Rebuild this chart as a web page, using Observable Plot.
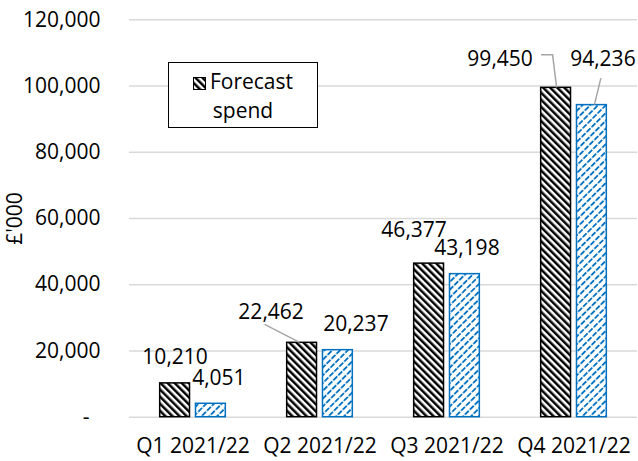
<!DOCTYPE html>
<html>
<head>
<meta charset="utf-8">
<script src="https://cdn.jsdelivr.net/npm/d3@7"></script>
<script src="https://cdn.jsdelivr.net/npm/@observablehq/plot@0.6"></script>
<style>
  body { margin: 0; background: #fff; }
  #wrap { position: relative; width: 638px; height: 461px; font-family: "Open Sans", sans-serif; color: #000; }
  #legend {
    position: absolute; left: 168px; top: 62px; width: 148px; height: 60px; padding-top: 4px;
    border: 1.5px solid #000; background: #fff; text-align: center;
    font-size: 21px; line-height: 29px; box-sizing: content-box;
  }
  #legend svg { vertical-align: -1px; margin-right: 4px; }
</style>
</head>
<body>
<svg width="0" height="0" style="position:absolute">
  <defs>
    <pattern id="hatchForecast" patternUnits="userSpaceOnUse" width="5" height="5" patternTransform="rotate(-45)">
      <rect width="5" height="5" fill="#fff"></rect>
      <rect width="2.5" height="5" fill="#000"></rect>
    </pattern>
    <pattern id="hatchActual" patternUnits="userSpaceOnUse" width="5.5" height="7" patternTransform="rotate(45)">
      <rect width="5.5" height="7" fill="#fff"></rect>
      <rect width="1.8" height="5.5" fill="#0070C0"></rect>
    </pattern>
  </defs>
</svg>
<div id="wrap">
  <div id="chart"></div>
  <div id="legend"><svg width="13" height="13"><rect x="0.5" y="0.5" width="12" height="12" fill="url(#hatchForecast)" stroke="#000" stroke-width="1"></rect></svg>Forecast<br>spend</div>
</div>
<script>
// ---- data ----
const quarters = ["Q1 2021/22", "Q2 2021/22", "Q3 2021/22", "Q4 2021/22"];
const seriesNames = ["Forecast spend", "Actual spend"];
const forecastSpend = [10210, 22462, 46377, 99450];
const actualSpend = [4051, 20237, 43198, 94236];
const yTicks = [0, 20000, 40000, 60000, 80000, 100000, 120000];

// manual label placement (as in the original, some labels were dragged): [dx, dy] per quarter, per series
const forecastLabelNudge = [[0, 0], [-31, -5], [-15, -7], [-56, -3]];
const actualLabelNudge = [[8, 0], [18, 0], [2, 0], [11, -20]];
// leader lines for moved labels, relative to the bar-top centre
const leaderLines = [
  {quarter: "Q2 2021/22", series: "Forecast spend", path: [[-37, -18], [-2, 0]]},
  {quarter: "Q4 2021/22", series: "Forecast spend", path: [[-14.5, -32.5], [-3, -32.5], [1, 0]]},
  {quarter: "Q4 2021/22", series: "Actual spend", path: [[9.5, -26.5], [3, 0]]}
];

// ---- build table ----
const rows = quarters.flatMap((q, i) => [
  {quarter: q, series: seriesNames[0], value: forecastSpend[i], nudge: forecastLabelNudge[i]},
  {quarter: q, series: seriesNames[1], value: actualSpend[i], nudge: actualLabelNudge[i]}
]);
const leaderRows = leaderLines.map(l => ({...l, value: rows.find(r => r.quarter === l.quarter && r.series === l.series).value}));

const fmt = d3.format(",");
const labelMarks = rows.map(r => Plot.text([r], {
  fx: "quarter", x: "series", y: "value",
  text: d => fmt(d.value),
  dx: r.nudge[0], dy: -26 + r.nudge[1],
  lineAnchor: "middle", fill: "#000", fontSize: 21
}));

const chart = Plot.plot({
  width: 638,
  height: 461,
  marginLeft: 127,
  marginRight: 0,
  marginTop: 19.3,
  marginBottom: 44.3,
  style: {fontFamily: "'Open Sans', sans-serif", fontSize: "21px", color: "#000", background: "transparent"},
  fx: {domain: quarters, padding: 0, label: null, axis: "bottom", tickSize: 0, tickPadding: 21},
  x: {domain: seriesNames, paddingInner: 1 / 6, paddingOuter: 0.857, round: false, axis: null},
  y: {
    domain: [0, 120000], ticks: yTicks,
    tickFormat: d => d === 0 ? "-\u00a0\u00a0" : fmt(d),
    tickSize: 0, tickPadding: 29,
    label: "£'000", labelAnchor: "center", labelArrow: "none", labelOffset: 122
  },
  marks: [
    Plot.ruleY(yTicks, {stroke: "#d9d9d9", strokeWidth: 1.5}),
    Plot.barY(rows.filter(r => r.series === seriesNames[0]), {
      fx: "quarter", x: "series", y: "value",
      fill: "url(#hatchForecast)", stroke: "#000", strokeWidth: 1.5
    }),
    Plot.barY(rows.filter(r => r.series === seriesNames[1]), {
      fx: "quarter", x: "series", y: "value",
      fill: "url(#hatchActual)", stroke: "#0070C0", strokeWidth: 1.5
    }),
    Plot.link(leaderRows, {
      fx: "quarter", x1: "series", x2: "series", y1: "value", y2: "value",
      render: (index, scales) => {
        const g = d3.create("svg:g");
        for (const i of index) {
          const d = leaderRows[i];
          const bx = scales.x(d.series) + scales.x.bandwidth() / 2;
          const by = scales.y(d.value);
          g.append("path")
            .attr("d", d3.line()(d.path.map(([a, b]) => [bx + a, by + b])))
            .attr("fill", "none").attr("stroke", "#a6a6a6").attr("stroke-width", 1.5);
        }
        return g.node();
      }
    }),
    ...labelMarks
  ]
});
document.getElementById("chart").appendChild(chart);
</script>
</body>
</html>
